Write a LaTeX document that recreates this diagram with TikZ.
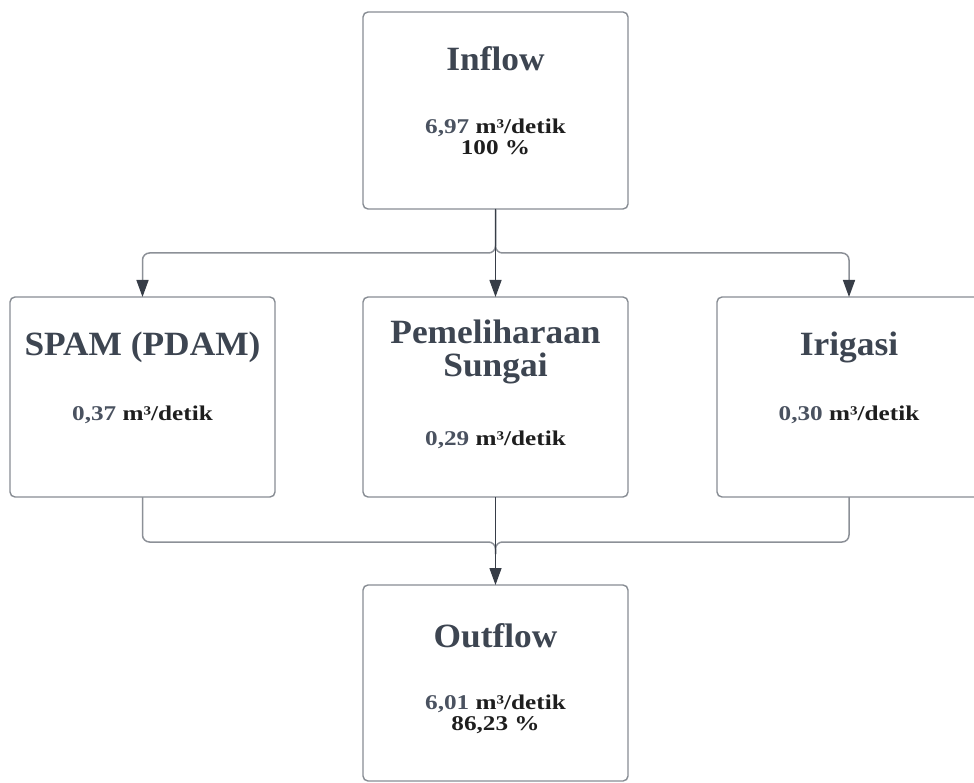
\documentclass[tikz,border=0pt]{standalone}
\usepackage{fontspec}
\setmainfont{Liberation Serif}
\newfontfamily\titlefont[FakeStretch=1.04]{Liberation Serif}
\newfontfamily\valfont[FakeStretch=1.2]{Liberation Serif}
\usetikzlibrary{arrows.meta}
\definecolor{boxc}{HTML}{878C93}
\definecolor{titlec}{HTML}{3D4551}
\definecolor{numc}{HTML}{4A5260}
\definecolor{unitc}{HTML}{1E1E1E}
\definecolor{linec}{HTML}{8C9097}
\definecolor{darkc}{HTML}{373D47}
\tikzset{
  box/.style={draw=boxc, line width=1.4pt, rounded corners=5pt, rectangle,
    inner sep=0pt, outer sep=0pt},
  ttl/.style={font=\titlefont\bfseries\fontsize{34}{37}\selectfont, text=titlec, inner sep=0pt, align=center},
  val/.style={font=\valfont\bfseries\fontsize{21}{22}\selectfont, text=unitc, inner sep=0pt, align=center},
  tip/.style={-{Triangle[length=17pt,width=12pt,color=darkc]}},
  sideline/.style={draw=linec, line width=1.5pt, rounded corners=7pt},
  mainline/.style={draw=darkc, line width=1.3pt}
}
\newcommand{\nm}[1]{\textcolor{numc}{#1}}
\begin{document}
\begin{tikzpicture}[x=1pt,y=-1pt]
\useasboundingbox (0,0) rectangle (974,783);
% boxes
\node[box, minimum width=265pt, minimum height=197pt] (in) at (495.5,110.5) {};
\node[box, minimum width=265pt, minimum height=200pt] (spam) at (142.5,397) {};
\node[box, minimum width=265pt, minimum height=200pt] (pem) at (495.5,397) {};
\node[box, minimum width=264pt, minimum height=200pt] (iri) at (849,397) {};
\node[box, minimum width=265pt, minimum height=196pt] (out) at (495.5,683) {};
% texts
\node[ttl] (inT) at (495.5,59) {Inflow};
\node[val] (inV) at (495.5,137) {\nm{6,97} m³/detik\\[-1pt]100 \%};
\node[ttl] (spamT) at (142.5,347) {SPAM (PDAM)};
\node[val] (spamV) at (142.5,415) {\nm{0,37} m³/detik};
\node[ttl] (pemT) at (495.5,352) {Pemeliharaan\\[-4pt]Sungai};
\node[val] (pemV) at (495.5,440) {\nm{0,29} m³/detik};
\node[ttl] (iriT) at (849,347) {Irigasi};
\node[val] (iriV) at (849,415) {\nm{0,30} m³/detik};
\node[ttl] (outT) at (495.5,636) {Outflow};
\node[val] (outV) at (495.5,714) {\nm{6,01} m³/detik\\[-1pt]86,23 \%};
% connectors
\coordinate (br) at (495.5,253);
\coordinate (mg) at (495.5,542);
\draw[sideline, tip] (in.south) -- (br) -| (spam.north);
\draw[sideline, tip] (in.south) -- (br) -| (iri.north);
\draw[sideline] (spam.south) |- (mg) -- ++(0,12);
\draw[sideline] (iri.south) |- (mg) -- ++(0,12);
\draw[mainline, tip] (in.south) -- (pem.north);
\draw[mainline, tip] (pem.south) -- (out.north);
\end{tikzpicture}
\end{document}
